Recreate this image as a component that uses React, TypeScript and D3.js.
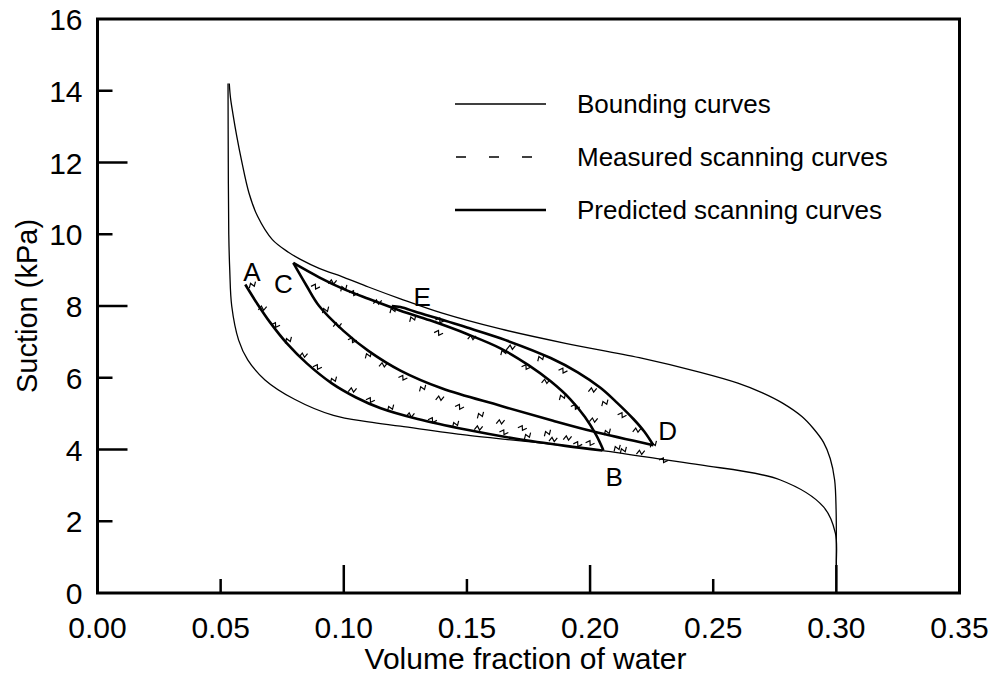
import { useEffect, useRef } from 'react';
import * as d3 from 'd3';

type Pt = [number, number];

// bounding curves (drying = upper, wetting = lower)
const boundingDrying: Pt[] = [
  [0.0535, 14.2], [0.054, 13.8], [0.055, 13.35], [0.0565, 12.75], [0.0585, 12.05], [0.0615, 11.15],
  [0.065, 10.5], [0.071, 9.85], [0.0775, 9.5], [0.0824, 9.3], [0.09, 9.05], [0.1, 8.8],
  [0.11, 8.53], [0.123, 8.2], [0.14, 7.8], [0.1636, 7.36], [0.19, 6.96], [0.22, 6.56],
  [0.2448, 6.15], [0.26, 5.85], [0.27, 5.58], [0.278, 5.3], [0.286, 4.92], [0.2905, 4.6],
  [0.2948, 4.2], [0.2975, 3.75], [0.2993, 3.15], [0.2999, 2.3], [0.3, 1.2], [0.3, 0],
];
const boundingWetting: Pt[] = [
  [0.053, 14.2], [0.0531, 12], [0.0533, 10], [0.0537, 9], [0.0545, 8], [0.0573, 7.05],
  [0.061, 6.5], [0.068, 5.94], [0.08, 5.4], [0.0958, 4.95], [0.11, 4.77], [0.123, 4.65],
  [0.15, 4.4], [0.184, 4.15], [0.205, 3.97], [0.23, 3.72], [0.2448, 3.57], [0.2773, 3.15],
  [0.2948, 2.4], [0.2996, 1.67], [0.3, 0.8], [0.3, 0],
];

// predicted scanning curves A-B, B-C, C-D, D-E
const predictedAB: Pt[] = [
  [0.06, 8.6], [0.065, 8.05], [0.07, 7.55], [0.077, 6.95], [0.085, 6.4], [0.095, 5.85],
  [0.105, 5.45], [0.115, 5.15], [0.13, 4.85], [0.15, 4.55], [0.17, 4.3], [0.19, 4.1],
  [0.205, 3.97],
];
const predictedBC: Pt[] = [
  [0.2054, 3.98], [0.2025, 4.4], [0.198, 4.9], [0.192, 5.4], [0.184, 5.9], [0.175, 6.35],
  [0.1636, 6.82], [0.15, 7.22], [0.135, 7.6], [0.123, 7.87], [0.11, 8.2], [0.1, 8.47],
  [0.09, 8.8], [0.0795, 9.2],
];
const predictedCD: Pt[] = [
  [0.0795, 9.2], [0.085, 8.55], [0.09, 8.0], [0.1, 7.3], [0.11, 6.75], [0.123, 6.2],
  [0.14, 5.7], [0.1636, 5.22], [0.185, 4.8], [0.2014, 4.5], [0.2257, 4.12],
];
const predictedDE: Pt[] = [
  [0.2257, 4.12], [0.222, 4.5], [0.2176, 4.85], [0.211, 5.3], [0.2042, 5.72], [0.195, 6.15],
  [0.184, 6.55], [0.1636, 7.1], [0.15, 7.4], [0.14, 7.62], [0.13, 7.82], [0.123, 7.97],
  [0.1195, 8.0],
];

// measured scanning points
const measuredAB: Pt[] = [
  [0.0629, 8.59], [0.067, 7.94], [0.0723, 7.47], [0.0775, 7.05], [0.0836, 6.63], [0.0893, 6.3],
  [0.0958, 5.94], [0.1035, 5.66], [0.1108, 5.38], [0.119, 5.16], [0.127, 4.96], [0.136, 4.82],
  [0.1454, 4.71], [0.1547, 4.6], [0.165, 4.48], [0.1746, 4.38], [0.185, 4.28], [0.195, 4.15],
  [0.2135, 3.98], [0.2205, 3.92], [0.2298, 3.7],
];
const measuredBC: Pt[] = [
  [0.207, 4.49], [0.2014, 4.82], [0.194, 5.19], [0.1888, 5.47], [0.182, 5.9], [0.174, 6.3],
  [0.165, 6.72], [0.152, 7.12], [0.139, 7.6], [0.12, 7.89], [0.1137, 8.11], [0.104, 8.36],
  [0.1, 8.5], [0.0954, 8.67], [0.0885, 8.54],
];
const measuredCD: Pt[] = [
  [0.0926, 7.89], [0.0974, 7.47], [0.1035, 7.05], [0.11, 6.63], [0.116, 6.36], [0.124, 6.0],
  [0.132, 5.71], [0.139, 5.43], [0.147, 5.19], [0.1555, 4.96], [0.1636, 4.77], [0.1725, 4.6],
  [0.1827, 4.46], [0.1908, 4.32], [0.2, 4.18], [0.211, 4.04],
];
const measuredDE: Pt[] = [
  [0.2257, 4.15], [0.219, 4.54], [0.213, 4.96], [0.206, 5.3], [0.201, 5.66], [0.189, 6.2],
  [0.18, 6.55], [0.168, 6.85], [0.1385, 7.25], [0.128, 7.65],
];

const pointLabels: { name: string; x: number; y: number; anchor: string }[] = [
  { name: 'A', x: 0.0627, y: 8.7, anchor: 'middle' },
  { name: 'C', x: 0.0755, y: 8.35, anchor: 'middle' },
  { name: 'E', x: 0.1283, y: 8.0, anchor: 'start' },
  { name: 'D', x: 0.2277, y: 4.26, anchor: 'start' },
  { name: 'B', x: 0.2063, y: 2.98, anchor: 'start' },
];

const xTicks = [0, 0.05, 0.1, 0.15, 0.2, 0.25, 0.3, 0.35];
const yTicks = [0, 2, 4, 6, 8, 10, 12, 14, 16];

const legendItems = ['Bounding curves', 'Measured scanning curves', 'Predicted scanning curves'];

const W = 997;
const H = 682;
const FONT = '"Liberation Sans", Arial, sans-serif';

const App = () => {
  const svgRef = useRef<SVGSVGElement | null>(null);

  useEffect(() => {
    if (!svgRef.current) return;
    const svg = d3.select(svgRef.current);
    svg.selectAll('*').remove();

    const margin = { top: 19, right: 37.5, bottom: 89, left: 97.5 };
    const innerW = W - margin.left - margin.right;
    const innerH = H - margin.top - margin.bottom;

    const x = d3.scaleLinear().domain([0, 0.35]).range([0, innerW]);
    const y = d3.scaleLinear().domain([0, 16]).range([innerH, 0]);

    const g = svg.append('g').attr('transform', `translate(${margin.left},${margin.top})`);

    const line = d3.line<Pt>()
      .x(d => x(d[0]))
      .y(d => y(d[1]))
      .curve(d3.curveCatmullRom.alpha(0.5));

    // bounding curves
    [boundingDrying, boundingWetting].forEach(data => {
      g.append('path')
        .datum(data)
        .attr('fill', 'none')
        .attr('stroke', '#000')
        .attr('stroke-width', 1.3)
        .attr('d', line);
    });

    // measured points drawn as little squiggles
    const squiggle = 'M-4,2 L-1.3,-2 L1.3,2 L4,-2';
    [measuredAB, measuredBC, measuredCD, measuredDE].forEach((data, k) => {
      g.selectAll(`.m${k}`)
        .data(data)
        .enter()
        .append('path')
        .attr('transform', (d, i) => `translate(${x(d[0])},${y(d[1])}) rotate(${(i % 3) * 25 - 20})`)
        .attr('d', squiggle)
        .attr('fill', 'none')
        .attr('stroke', '#000')
        .attr('stroke-width', 1.2);
    });

    // predicted scanning curves
    [predictedAB, predictedBC, predictedCD, predictedDE].forEach(data => {
      g.append('path')
        .datum(data)
        .attr('fill', 'none')
        .attr('stroke', '#000')
        .attr('stroke-width', 2.6)
        .attr('stroke-linejoin', 'round')
        .attr('d', line);
    });

    // point labels
    pointLabels.forEach(p => {
      g.append('text')
        .attr('x', x(p.x))
        .attr('y', y(p.y))
        .attr('text-anchor', p.anchor)
        .style('font-family', FONT)
        .style('font-size', '26px')
        .text(p.name);
    });

    // frame
    g.append('rect')
      .attr('width', innerW)
      .attr('height', innerH)
      .attr('fill', 'none')
      .attr('stroke', '#000')
      .attr('stroke-width', 3);

    // ticks: long on every other one
    xTicks.forEach((t, i) => {
      if (i === 0 || i === xTicks.length - 1) return;
      const len = i % 2 === 0 ? 28 : 14;
      g.append('line')
        .attr('x1', x(t)).attr('x2', x(t))
        .attr('y1', innerH).attr('y2', innerH - len)
        .attr('stroke', '#000').attr('stroke-width', 2.5);
    });
    yTicks.forEach((t, i) => {
      if (i === 0 || i === yTicks.length - 1) return;
      const len = i % 2 === 0 ? 30 : 15;
      g.append('line')
        .attr('x1', 0).attr('x2', len)
        .attr('y1', y(t)).attr('y2', y(t))
        .attr('stroke', '#000').attr('stroke-width', 2.5);
    });

    // tick labels
    xTicks.forEach(t => {
      g.append('text')
        .attr('x', x(t))
        .attr('y', innerH + 45)
        .attr('text-anchor', 'middle')
        .style('font-family', FONT)
        .style('font-size', '30px')
        .text(t.toFixed(2));
    });
    yTicks.forEach(t => {
      g.append('text')
        .attr('x', -15)
        .attr('y', y(t) + 11)
        .attr('text-anchor', 'end')
        .style('font-family', FONT)
        .style('font-size', '30px')
        .text(String(t));
    });

    // axis titles
    g.append('text')
      .attr('x', innerW / 2 - 3)
      .attr('y', innerH + 76)
      .attr('text-anchor', 'middle')
      .style('font-family', FONT)
      .style('font-size', '30px')
      .text('Volume fraction of water');
    svg.append('text')
      .attr('transform', `translate(37,306) rotate(-90)`)
      .attr('text-anchor', 'middle')
      .style('font-family', FONT)
      .style('font-size', '29px')
      .text('Suction (kPa)');

    // legend
    const legend = svg.append('g').attr('transform', 'translate(455,104)');
    legendItems.forEach((label, i) => {
      const row = legend.append('g').attr('transform', `translate(0,${i * 53})`);
      const ln = row.append('line')
        .attr('x1', 0).attr('x2', 91)
        .attr('y1', 0).attr('y2', 0)
        .attr('stroke', '#000');
      if (i === 0) ln.attr('stroke-width', 1.3);
      if (i === 1) ln.attr('x1', 1).attr('x2', 78).attr('stroke-width', 1.3).attr('stroke-dasharray', '10 23');
      if (i === 2) ln.attr('stroke-width', 2.6);
      row.append('text')
        .attr('x', 122)
        .attr('y', 9)
        .style('font-family', FONT)
        .style('font-size', '26px')
        .text(label);
    });
  }, []);

  return (
    <svg
      ref={svgRef}
      width={W}
      height={H}
      style={{ position: 'absolute', left: 0, top: 0, background: '#fff' }}
    />
  );
};

export default App;
